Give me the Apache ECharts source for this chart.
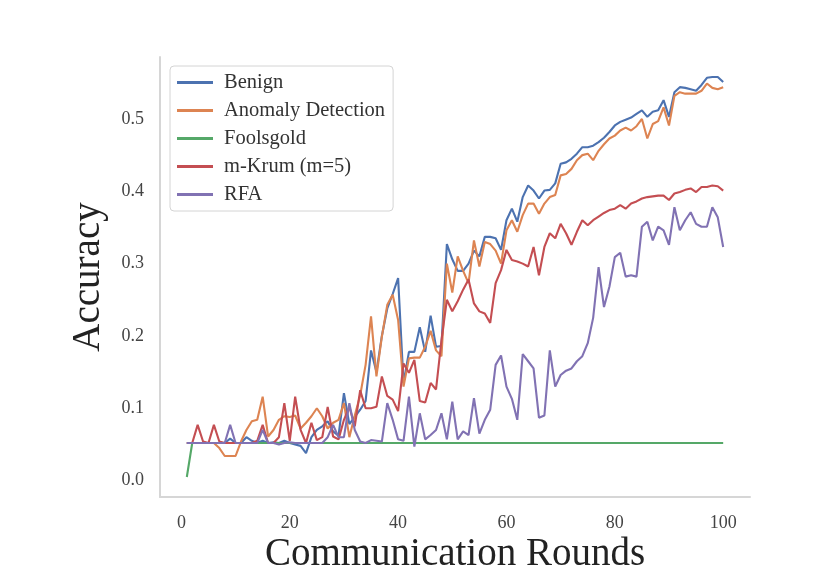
<!DOCTYPE html>
<html>
<head>
<meta charset="utf-8">
<script src="https://cdn.jsdelivr.net/npm/echarts@6/dist/echarts.min.js"></script>
<style>html,body{margin:0;padding:0;background:#fff}#c{width:828px;height:585px}</style>
</head>
<body>
<div id="c"></div>
<script>
const rounds = Array.from({length: 100}, (_, i) => i + 1);
const xTicks = [0, 20, 40, 60, 80, 100];
const yTicks = [0, 0.1, 0.2, 0.3, 0.4, 0.5];
const seriesNames = ['Benign', 'Anomaly Detection', 'Foolsgold', 'm-Krum (m=5)', 'RFA'];

const benign = [
 0.052,0.052,0.052,0.052,0.052,0.052,0.052,0.052,0.058,0.052,
 0.052,0.060,0.055,0.052,0.055,0.052,0.053,0.052,0.055,0.052,
 0.050,0.048,0.038,0.060,0.070,0.075,0.082,0.068,0.062,0.121,
 0.078,0.088,0.098,0.110,0.180,0.150,0.200,0.238,0.258,0.280,
 0.135,0.178,0.178,0.212,0.178,0.228,0.185,0.186,0.327,0.306,
 0.290,0.290,0.300,0.318,0.310,0.337,0.337,0.335,0.319,0.360,
 0.376,0.358,0.392,0.408,0.401,0.390,0.401,0.402,0.411,0.438,
 0.440,0.445,0.452,0.461,0.461,0.463,0.468,0.474,0.482,0.491,
 0.496,0.499,0.502,0.507,0.512,0.503,0.510,0.512,0.526,0.503,
 0.537,0.544,0.543,0.541,0.539,0.547,0.557,0.558,0.558,0.551
];
const anomaly = [
 0.052,0.052,0.052,0.052,0.052,0.052,0.045,0.034,0.034,0.034,
 0.054,0.070,0.082,0.084,0.116,0.061,0.070,0.084,0.089,0.088,
 0.090,0.072,0.080,0.089,0.100,0.089,0.072,0.080,0.084,0.107,
 0.060,0.090,0.118,0.160,0.227,0.144,0.199,0.243,0.257,0.222,
 0.130,0.169,0.170,0.170,0.185,0.207,0.180,0.172,0.300,0.260,
 0.310,0.290,0.273,0.332,0.296,0.330,0.327,0.318,0.300,0.346,
 0.360,0.344,0.367,0.383,0.383,0.369,0.383,0.392,0.395,0.422,
 0.424,0.431,0.443,0.450,0.452,0.443,0.456,0.465,0.473,0.477,
 0.484,0.488,0.484,0.490,0.500,0.473,0.493,0.497,0.516,0.491,
 0.532,0.537,0.535,0.535,0.535,0.539,0.549,0.543,0.541,0.544
];
const foolsgold = [
 0.005,0.052,0.052,0.052,0.052,0.052,0.052,0.052,0.052,0.052,
 0.052,0.052,0.052,0.052,0.052,0.052,0.052,0.052,0.052,0.052,
 0.052,0.052,0.052,0.052,0.052,0.052,0.052,0.052,0.052,0.052,
 0.052,0.052,0.052,0.052,0.052,0.052,0.052,0.052,0.052,0.052,
 0.052,0.052,0.052,0.052,0.052,0.052,0.052,0.052,0.052,0.052,
 0.052,0.052,0.052,0.052,0.052,0.052,0.052,0.052,0.052,0.052,
 0.052,0.052,0.052,0.052,0.052,0.052,0.052,0.052,0.052,0.052,
 0.052,0.052,0.052,0.052,0.052,0.052,0.052,0.052,0.052,0.052,
 0.052,0.052,0.052,0.052,0.052,0.052,0.052,0.052,0.052,0.052,
 0.052,0.052,0.052,0.052,0.052,0.052,0.052,0.052,0.052,0.052
];
const mkrum = [
 0.052,0.052,0.077,0.054,0.052,0.077,0.054,0.052,0.052,0.052,
 0.052,0.052,0.052,0.055,0.077,0.052,0.052,0.060,0.107,0.055,
 0.116,0.070,0.052,0.080,0.056,0.060,0.102,0.061,0.057,0.084,
 0.102,0.075,0.125,0.100,0.100,0.102,0.144,0.117,0.112,0.096,
 0.162,0.149,0.167,0.110,0.108,0.135,0.126,0.194,0.250,0.234,
 0.248,0.264,0.278,0.245,0.234,0.231,0.218,0.273,0.291,0.319,
 0.305,0.303,0.300,0.296,0.323,0.284,0.323,0.342,0.335,0.355,
 0.342,0.326,0.344,0.360,0.353,0.360,0.365,0.370,0.374,0.376,
 0.381,0.376,0.383,0.386,0.390,0.392,0.393,0.394,0.394,0.388,
 0.397,0.399,0.402,0.404,0.399,0.406,0.406,0.408,0.407,0.401
];
const rfa = [
 0.052,0.052,0.052,0.052,0.052,0.052,0.052,0.052,0.077,0.052,
 0.052,0.052,0.052,0.052,0.070,0.052,0.052,0.050,0.052,0.053,
 0.052,0.052,0.052,0.052,0.052,0.052,0.060,0.077,0.060,0.060,
 0.107,0.070,0.054,0.052,0.056,0.055,0.054,0.107,0.084,0.057,
 0.055,0.116,0.047,0.093,0.057,0.063,0.070,0.093,0.057,0.109,
 0.057,0.068,0.063,0.114,0.065,0.084,0.098,0.160,0.173,0.130,
 0.113,0.084,0.175,0.165,0.155,0.087,0.090,0.180,0.130,0.146,
 0.152,0.155,0.165,0.172,0.190,0.225,0.295,0.240,0.268,0.309,
 0.315,0.282,0.284,0.282,0.351,0.358,0.332,0.351,0.346,0.326,
 0.378,0.346,0.360,0.371,0.355,0.351,0.351,0.378,0.364,0.323
];

const colors = ['#4C72B0', '#DD8452', '#55A868', '#C44E52', '#8172B3'];
const allData = [benign, anomaly, foolsgold, mkrum, rfa];
const serif = '"Liberation Serif", "Times New Roman", serif';

const chart = echarts.init(document.getElementById('c'), null, {renderer: 'canvas'});
chart.setOption({
  backgroundColor: '#ffffff',
  animation: false,
  color: colors,
  grid: {left: 160, top: 57, width: 590, height: 440, containLabel: false},
  legend: {
    orient: 'vertical',
    left: 170, top: 66,
    data: seriesNames,
    icon: 'rect',
    itemWidth: 36, itemHeight: 3,
    itemGap: 7,
    padding: [6, 8, 6, 7],
    backgroundColor: 'rgba(255,255,255,0.85)',
    borderColor: '#d4d4d4', borderWidth: 1, borderRadius: 4,
    textStyle: {fontFamily: serif, fontSize: 20.5, color: '#333', padding: [0, 0, 0, 6]}
  },
  xAxis: {
    type: 'value', min: -3.95, max: 104.95,
    name: 'Communication Rounds', nameLocation: 'middle', nameGap: 38,
    nameMoveOverlap: false,
    nameTextStyle: {fontFamily: serif, fontSize: 39, color: '#222'},
    axisLine: {show: true, onZero: false, lineStyle: {color: '#d6d6d6', width: 2}},
    axisTick: {show: false},
    splitLine: {show: false},
    axisLabel: {customValues: xTicks, fontFamily: serif, fontSize: 18, color: '#444', margin: 17,
      formatter: v => String(Math.round(v))}
  },
  yAxis: {
    type: 'value', min: -0.0227, max: 0.5857,
    name: 'Accuracy', nameLocation: 'middle', nameGap: 52,
    nameMoveOverlap: false,
    nameTextStyle: {fontFamily: serif, fontSize: 39, color: '#222'},
    axisLine: {show: true, onZero: false, lineStyle: {color: '#d6d6d6', width: 2}},
    axisTick: {show: false},
    splitLine: {show: false},
    axisLabel: {customValues: yTicks, fontFamily: serif, fontSize: 18, color: '#444', margin: 16,
      formatter: v => v.toFixed(1)}
  },
  series: seriesNames.map((n, i) => ({
    name: n, type: 'line', showSymbol: false, symbol: 'none',
    data: rounds.map((r, j) => [r, allData[i][j]]),
    lineStyle: {width: 2.1, color: colors[i]},
    itemStyle: {color: colors[i]},
    z: 2 + i
  }))
});
</script>
</body>
</html>
